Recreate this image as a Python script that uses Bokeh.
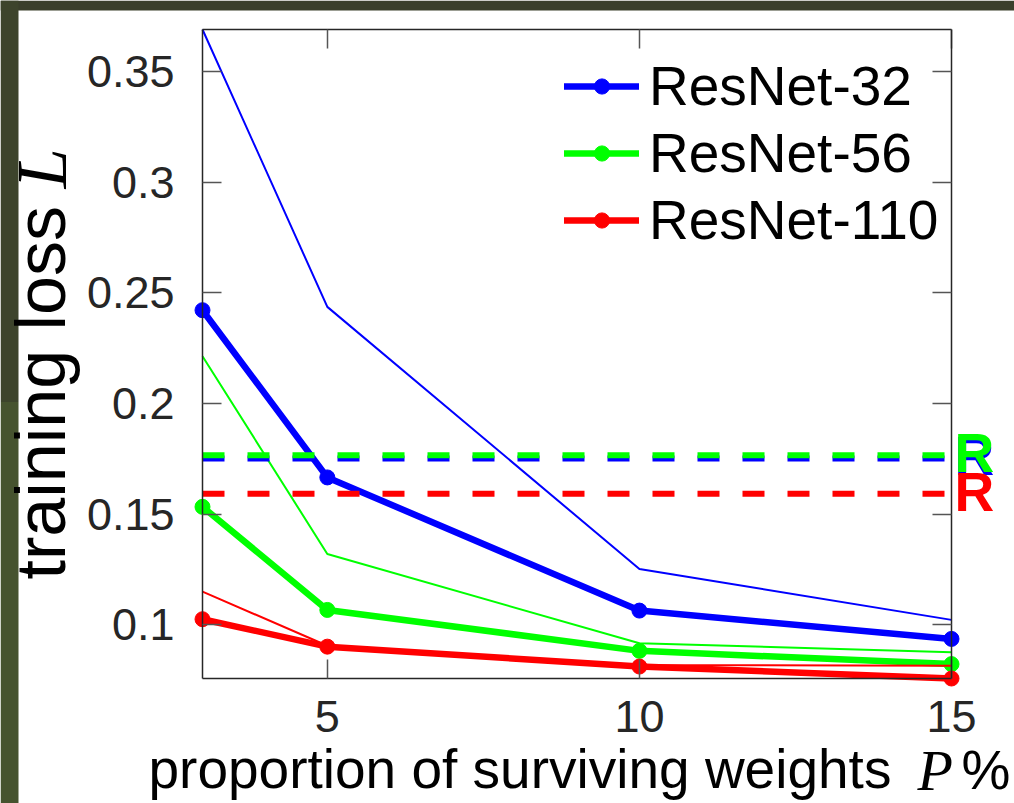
import math
from bokeh.plotting import figure
from bokeh.models import (Range1d, FixedTicker, LinearAxis, Label,
                          Legend, LegendItem, BoxAnnotation)
from bokeh.embed import file_html
from bokeh.resources import INLINE

# ---------------- data ----------------
x_pct = [3, 5, 10, 15]

resnet32_thick = [0.2422, 0.1666, 0.1064, 0.0936]
resnet32_thin = [0.3691, 0.2437, 0.1252, 0.1022]
resnet56_thick = [0.1533, 0.1067, 0.0882, 0.0822]
resnet56_thin = [0.2214, 0.1320, 0.0916, 0.0876]
resnet110_thick = [0.1025, 0.0901, 0.0811, 0.0757]
resnet110_thin = [0.1150, 0.0905, 0.0818, 0.0815]

series_names = ["ResNet-32", "ResNet-56", "ResNet-110"]
series_colors = ["#0000ff", "#00ff00", "#ff0000"]
ref_values = [0.1752, 0.1766, 0.1592]   # dashed reference levels, per series
ref_text = "R"

x_ticks = [5, 10, 15]
y_ticks = [0.1, 0.15, 0.2, 0.25, 0.3, 0.35]
y_tick_labels = ["0.1", "0.15", "0.2", "0.25", "0.3", "0.35"]

x_label_main = "proportion of surviving weights"
x_label_var = "P"
x_label_unit = "%"
y_label_main = "training loss"
y_label_var = "L"

thick = [resnet32_thick, resnet56_thick, resnet110_thick]
thin = [resnet32_thin, resnet56_thin, resnet110_thin]

all_vals = [v for s in thick + thin for v in s]
x_lo, x_hi = min(x_pct), max(x_pct)
y_lo, y_hi = min(all_vals), max(all_vals)

# ---------------- layout (pixels) ----------------
W, H = 1014, 803
BOX_L, BOX_R, BOX_T, BOX_B = 202, 951, 29, 678     # axes box on the canvas
ppx = (BOX_R - BOX_L) / (x_hi - x_lo)
ppy = (BOX_B - BOX_T) / (y_hi - y_lo)
x_start, x_end = x_lo - BOX_L / ppx, x_hi + (W - BOX_R) / ppx
y_start, y_end = y_lo - (H - BOX_B) / ppy, y_hi + BOX_T / ppy

SANS = "Liberation Sans"
SERIF = "Liberation Serif"
AX = "#262626"

p = figure(width=W, height=H, output_backend="svg", toolbar_location=None,
           x_range=Range1d(x_start, x_end), y_range=Range1d(y_start, y_end),
           x_axis_location=None, y_axis_location=None,
           min_border_left=0, min_border_right=0,
           min_border_top=0, min_border_bottom=0)
p.background_fill_color = "white"
p.border_fill_color = "white"
p.outline_line_color = None
p.grid.visible = False

# dark page edges of the screenshot
p.add_layout(BoxAnnotation(bottom=y_end - 10 / ppy, fill_color="#3a3f2b",
                           fill_alpha=1, line_color=None, level="underlay"))
p.add_layout(BoxAnnotation(right=x_start + 18 / ppx,
                           bottom=(y_start + y_end) / 2, fill_color="#3d442c",
                           fill_alpha=1, line_color=None, level="underlay"))
p.add_layout(BoxAnnotation(right=x_start + 18 / ppx,
                           top=(y_start + y_end) / 2, fill_color="#46532f",
                           fill_alpha=1, line_color=None, level="underlay"))


def make_axis(ticks, loc, bounds, labels):
    ax = LinearAxis(fixed_location=loc, bounds=bounds)
    ax.ticker = FixedTicker(ticks=ticks)
    ax.axis_line_color = AX
    ax.axis_line_width = 1.5
    ax.major_tick_line_color = "#555555"
    ax.major_tick_line_width = 1.5
    ax.major_tick_in = 19
    ax.major_tick_out = 0
    ax.minor_tick_line_color = None
    ax.major_label_text_font = SANS
    ax.major_label_text_color = AX
    ax.major_label_text_font_size = "45px"
    ax.major_label_overrides = {t: s for t, s in zip(ticks, labels)}
    return ax


x_tick_labels = [str(t) for t in x_ticks]
bottom_ax = make_axis(x_ticks, y_lo, (x_lo, x_hi), x_tick_labels)
bottom_ax.major_label_standoff = 22
left_ax = make_axis(y_ticks, x_lo, (y_lo, y_hi), y_tick_labels)
left_ax.major_label_standoff = 28
top_ax = make_axis(x_ticks, y_hi, (x_lo, x_hi), [""] * len(x_ticks))
right_ax = make_axis(y_ticks, x_hi, (y_lo, y_hi), [""] * len(y_ticks))
p.add_layout(bottom_ax, "below")
p.add_layout(left_ax, "left")
p.add_layout(top_ax, "above")
p.add_layout(right_ax, "right")

# ---------------- lines ----------------
items = []
for name, col, th, tn in zip(series_names, series_colors, thick, thin):
    l_thick = p.line(x_pct, th, line_color=col, line_width=6.5,
                     line_join="round", line_cap="round")
    m_thick = p.scatter(x_pct, th, marker="circle", size=15,
                        fill_color=col, line_color=col)
    p.line(x_pct, tn, line_color=col, line_width=2, line_join="round")
    items.append(LegendItem(label=name, renderers=[l_thick, m_thick]))

# dashed reference levels and their "R" marks
p.segment(x0=[x_lo] * len(ref_values), x1=[x_hi] * len(ref_values),
          y0=ref_values, y1=ref_values, line_color=series_colors,
          line_width=6, line_dash="22 23")
for col, v in zip(series_colors, ref_values):
    p.add_layout(Label(x=x_hi, y=v, text=ref_text, text_font=SANS,
                       text_font_style="bold", text_font_size="55px",
                       text_color=col, text_baseline="alphabetic",
                       x_offset=3, y_offset=2))

legend = Legend(items=items, location=(564, 551), padding=0, margin=0,
                spacing=3, glyph_width=75, glyph_height=38, label_height=38,
                label_standoff=10, label_text_font=SANS,
                label_text_font_size="55px", label_text_color="black",
                border_line_color=None, background_fill_alpha=0)
p.add_layout(legend)

# ---------------- axis titles ----------------
p.add_layout(Label(x=x_lo, y=y_lo, text=x_label_main, text_font=SANS,
                   text_font_size="55px", text_color="black",
                   text_align="left", text_baseline="alphabetic",
                   x_offset=-54, y_offset=-90))
p.add_layout(Label(x=x_hi, y=y_lo, text=x_label_var, text_font=SERIF,
                   text_font_style="italic", text_font_size="58px",
                   text_color="black", text_align="left",
                   text_baseline="alphabetic", x_offset=-34, y_offset=-92))
p.add_layout(Label(x=x_hi, y=y_lo, text=x_label_unit, text_font=SANS,
                   text_font_size="55px", text_color="black",
                   text_align="left", text_baseline="alphabetic",
                   x_offset=10, y_offset=-91))
p.add_layout(Label(x=x_lo, y=y_lo, text=y_label_main, text_font=SANS,
                   text_font_size="70px", text_color="black",
                   text_align="left", text_baseline="alphabetic",
                   angle=math.pi / 2, x_offset=-162, y_offset=99))
p.add_layout(Label(x=x_lo, y=y_lo, text=y_label_var, text_font=SERIF,
                   text_font_style="italic", text_font_size="72px",
                   text_color="black", text_align="left",
                   text_baseline="alphabetic", angle=math.pi / 2,
                   x_offset=-161, y_offset=490))

open("out.html", "w").write(file_html(p, INLINE))
